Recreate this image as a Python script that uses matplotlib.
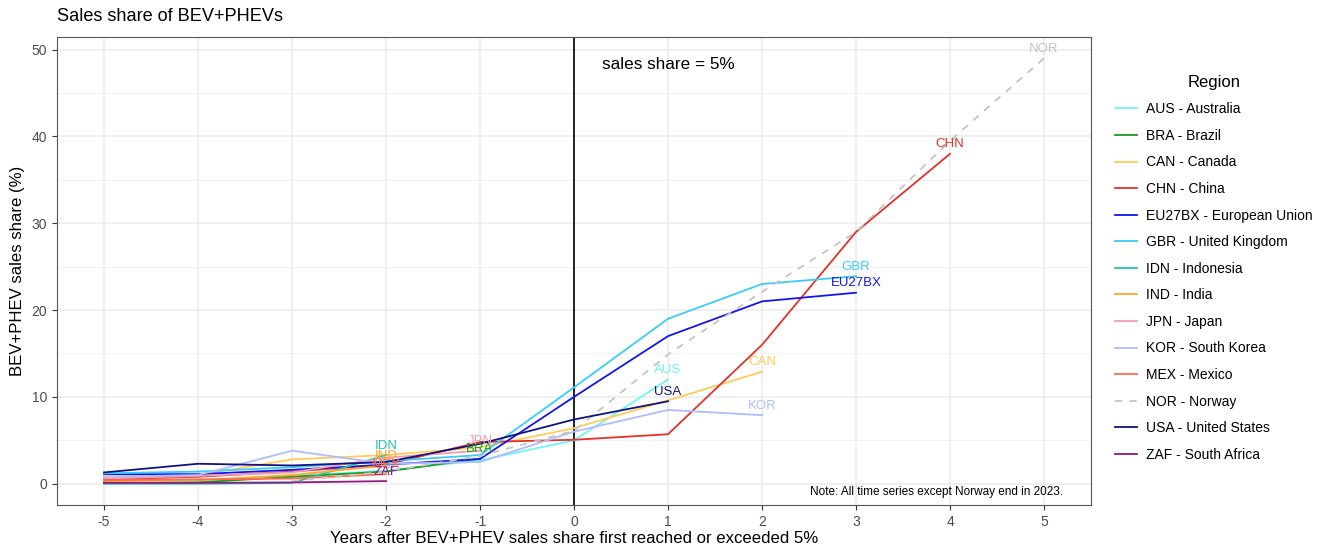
import matplotlib
matplotlib.use('Agg')
import matplotlib.pyplot as plt
from matplotlib.ticker import MultipleLocator

plt.rcParams['font.family'] = ['Liberation Sans', 'DejaVu Sans']
plt.rcParams['axes.unicode_minus'] = False

# years relative to the first year with >= 5% sales share
years_aus = [-5, -4, -3, -2, -1, 0, 1]
aus = [0.1, 0.2, 0.9, 1.5, 2.7, 5.0, 12.0]
years_bra = [-5, -4, -3, -2, -1]
bra = [0.05, 0.15, 0.8, 1.4, 2.9]
years_can = [-5, -4, -3, -2, -1, 0, 1, 2]
can = [0.8, 1.0, 2.8, 3.3, 4.2, 6.4, 9.6, 12.9]
years_chn = [-5, -4, -3, -2, -1, 0, 1, 2, 3, 4]
chn = [0.5, 0.8, 1.4, 2.2, 4.8, 5.06, 5.7, 16.0, 29.0, 38.0]
years_eu = [-5, -4, -3, -2, -1, 0, 1, 2, 3]
eu = [1.1, 1.1, 1.6, 2.2, 2.85, 10.0, 17.0, 21.0, 22.0]
years_gbr = [-5, -4, -3, -2, -1, 0, 1, 2, 3]
gbr = [1.2, 1.4, 1.9, 2.6, 3.3, 11.1, 19.0, 23.0, 23.9]
years_idn = [-5, -4, -3, -2]
idn = [0.0, 0.0, 0.1, 3.3]
years_ind = [-5, -4, -3, -2]
ind = [0.3, 0.4, 1.0, 2.1]
years_jpn = [-5, -4, -3, -2, -1]
jpn = [0.6, 0.9, 1.3, 3.0, 3.8]
years_kor = [-5, -4, -3, -2, -1, 0, 1, 2]
kor = [0.8, 1.0, 3.8, 2.3, 2.5, 6.0, 8.5, 7.9]
years_mex = [-5, -4, -3, -2]
mex = [0.4, 0.5, 0.6, 1.1]
years_nor = [-3, -2, -1, 0, 1, 2, 3, 4, 5]
nor = [0.3, 1.4, 3.2, 6.1, 14.9, 22.1, 29.0, 39.5, 49.0]
years_usa = [-5, -4, -3, -2, -1, 0, 1]
usa = [1.3, 2.3, 2.1, 2.5, 4.6, 7.4, 9.5]
years_zaf = [-5, -4, -3, -2]
zaf = [0.1, 0.1, 0.15, 0.3]

codes = ['AUS', 'BRA', 'CAN', 'CHN', 'EU27BX', 'GBR', 'IDN', 'IND', 'JPN',
         'KOR', 'MEX', 'NOR', 'USA', 'ZAF']
names = ['Australia', 'Brazil', 'Canada', 'China', 'European Union',
         'United Kingdom', 'Indonesia', 'India', 'Japan', 'South Korea',
         'Mexico', 'Norway', 'United States', 'South Africa']
colors = ['#6EF4F4', '#1E9A1E', '#FFCC55', '#E4302A', '#1414F0', '#38CCF8',
          '#22C4B0', '#FFA726', '#F29CB4', '#AFBCFF', '#FF6A50', '#C4C4C4',
          '#121280', '#8E1A7E']

series = [(years_aus, aus), (years_bra, bra), (years_can, can),
          (years_chn, chn), (years_eu, eu), (years_gbr, gbr),
          (years_idn, idn), (years_ind, ind), (years_jpn, jpn),
          (years_kor, kor), (years_mex, mex), (years_nor, nor),
          (years_usa, usa), (years_zaf, zaf)]

fig = plt.figure(figsize=(13.3, 5.46), dpi=100)
ax = fig.add_axes([0.0429, 0.0751, 0.7774, 0.8571])

ax.axvline(0, color='black', lw=1.2, zorder=1)

handles = []
for code, name, col, (xs, ys) in zip(codes, names, colors, series):
    ls = (0, (4, 4)) if code == 'NOR' else '-'
    h, = ax.plot(xs, ys, color=col, lw=1.3, ls=ls, zorder=2,
                 label=f'{code} - {name}')
    handles.append(h)
    # region code above the last point of each series
    ax.text(xs[-1], ys[-1] + 1.1, code, color=col, fontsize=9.5,
            ha='center', va='center', zorder=3)

ax.text(1, 48.3, 'sales share = 5%', fontsize=12.3, ha='center', va='center')
ax.text(5.2, -0.9, 'Note: All time series except Norway end in 2023.',
        fontsize=8.5, ha='right', va='center')

ax.set_xlim(-5.5, 5.5)
ax.set_ylim(-2.45, 51.45)
ax.set_xticks(range(-5, 6))
ax.set_yticks(range(0, 51, 10))
ax.yaxis.set_minor_locator(MultipleLocator(5))
ax.grid(which='major', color='#EBEBEB', lw=1.1, zorder=0)
ax.grid(which='minor', axis='y', color='#F2F2F2', lw=0.7, zorder=0)
ax.set_axisbelow(True)
ax.tick_params(which='major', length=3.5, width=0.8, color='#333333',
               labelcolor='#4D4D4D', labelsize=10)
ax.tick_params(which='minor', length=0)
for sp in ax.spines.values():
    sp.set_color('#555555')
    sp.set_linewidth(0.8)

ax.set_xlabel('Years after BEV+PHEV sales share first reached or exceeded 5%',
              fontsize=12.1, labelpad=2)
ax.set_ylabel('BEV+PHEV sales share (%)', fontsize=12.1, labelpad=5)

fig.text(0.0429, 0.969, 'Sales share of BEV+PHEVs', fontsize=13.1,
         ha='left', va='center')

leg = fig.legend(handles=handles, loc='upper left',
                 bbox_to_anchor=(0.829, 0.886), frameon=False,
                 title='Region', fontsize=10, title_fontsize=12,
                 handlelength=1.6, handletextpad=0.6, labelspacing=0.905)

fig.savefig('out.png', dpi=100)
